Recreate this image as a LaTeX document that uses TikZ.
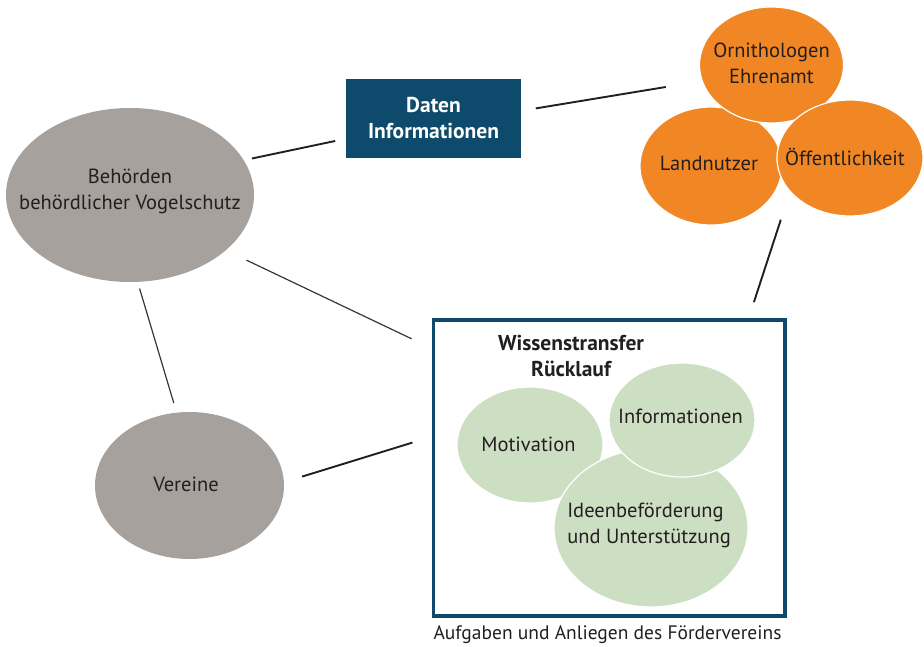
\documentclass[tikz,border=0pt]{standalone}
\usepackage{fontspec}
\setmainfont{PT Sans}
\usetikzlibrary{shapes.geometric}
\definecolor{behgray}{RGB}{167,161,158}
\definecolor{orng}{RGB}{241,135,36}
\definecolor{navy}{RGB}{14,74,107}
\definecolor{lgreen}{RGB}{205,223,195}
\definecolor{ink}{RGB}{35,31,32}
\begin{document}
\begin{tikzpicture}[x=1pt,y=-1pt,
  blob/.style={ellipse, inner sep=0pt, outer sep=0pt},
  grayblob/.style={blob, fill=behgray},
  orangeblob/.style={blob, fill=orng, draw=white, line width=1.2pt},
  greenblob/.style={blob, fill=lgreen, draw=white, line width=1.2pt},
  txt/.style={text=ink, font=\fontsize{20.5}{26}\selectfont, align=center, inner sep=0pt},
  boldtxt/.style={txt, font=\fontsize{21.5}{26}\selectfont\bfseries},
  link/.style={draw=ink, line width=1.9pt},
  thinlink/.style={draw=ink!90, line width=1.2pt},
]
\useasboundingbox (0,0) rectangle (924,647);

% grey actors
\node[grayblob, minimum width=248pt, minimum height=174pt] (beh) at (130,195) {};
\node[txt] (behT) at (130,191) {Behörden\\behördlicher Vogelschutz};
\node[grayblob, minimum width=189pt, minimum height=147pt] (ver) at (189.5,485.5) {};
\node[txt] (verT) at (186,484) {Vereine};

% data box
\node[fill=navy, minimum width=175pt, minimum height=79pt, inner sep=0pt, outer sep=0pt] (dat) at (433.5,118.5) {};
\node[boldtxt, text=white] (datT) at (433.5,118) {Daten\\Informationen};

% orange cluster
\node[orangeblob, minimum width=142pt, minimum height=118pt] (land) at (711,166) {};
\node[orangeblob, minimum width=144pt, minimum height=116pt] (orn) at (771.5,65) {};
\node[orangeblob, minimum width=146pt, minimum height=116pt] (oef) at (850,158) {};
\node[txt] (ornT) at (771.5,63) {Ornithologen\\Ehrenamt};
\node[txt] (landT) at (709,163) {Landnutzer};
\node[txt] (oefT) at (845,157) {Öffentlichkeit};

% association box
\node[draw=navy, line width=3.5pt, minimum width=351.5pt, minimum height=296pt, inner sep=0pt] (box) at (609,468) {};
\node[boldtxt] (boxT) at (571,356) {Wissenstransfer\\Rücklauf};
\node[greenblob, minimum width=146pt, minimum height=116pt] (mot) at (530,445) {};
\node[greenblob, minimum width=194pt, minimum height=158pt] (idee) at (651,528) {};
\node[greenblob, minimum width=146pt, minimum height=114pt] (info) at (682,420) {};
\node[txt] (motT) at (528.5,444) {Motivation};
\node[txt] (infoT) at (680.5,416) {Informationen};
\node[txt, align=left] (ideeT) at (649,525) {Ideenbeförderung\\und Unterstützung};
\node[txt, font=\fontsize{19.5}{24}\selectfont] (cap) at (607.5,635) {Aufgaben und Anliegen des Fördervereins};

% connectors
\path[link, shorten <=15pt, shorten >=37pt] (dat.5) -- (orn.193);
\path[link, shorten <=8.5pt, shorten >=11pt] (beh.17) -- (dat.193);
\path[thinlink, shorten <=23pt, shorten >=22pt] (beh.-30) -- (box.146);
\path[thinlink, shorten <=7pt, shorten >=10pt] (beh.-85) -- (ver.100.6);
\path[link, shorten <=19pt, shorten >=20pt] (ver.2) -- (box.170);
\path[link, shorten <=30pt, shorten >=17pt] (oef.209) -- (box.47);
\end{tikzpicture}
\end{document}
